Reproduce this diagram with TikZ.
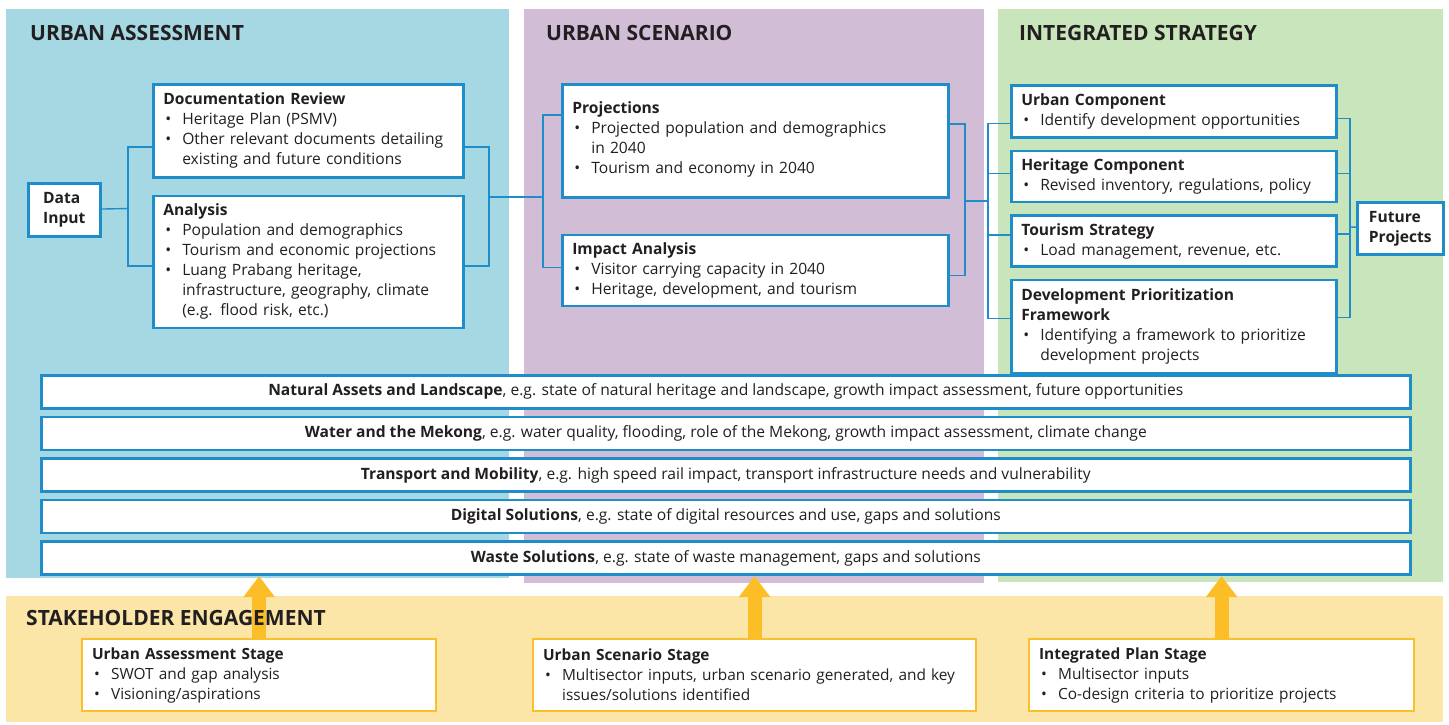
\documentclass[tikz,border=0pt]{standalone}
\usepackage{fontspec}
\setmainfont{Open Sans}
\usetikzlibrary{arrows.meta,positioning}

\definecolor{assessbg}{RGB}{166,216,227}
\definecolor{scenariobg}{RGB}{210,189,215}
\definecolor{strategybg}{RGB}{201,229,187}
\definecolor{stakebg}{RGB}{251,229,167}
\definecolor{boxline}{RGB}{31,141,201}
\definecolor{stageline}{RGB}{249,191,44}
\definecolor{liftcol}{RGB}{251,190,39}
\definecolor{inkdark}{RGB}{35,31,32}

% bullet line and its continuation line
\newcommand{\bul}[1]{\par\noindent\makebox[19pt][l]{\hspace{2pt}\textbullet}#1}
\newcommand{\more}[1]{\par\noindent\hspace*{19pt}#1}

\tikzstyle{block} = [rectangle, draw=boxline, line width=2.6pt, fill=white,
    anchor=north west, align=left, inner xsep=10pt, inner ysep=3pt,
    text=inkdark, font=\fontsize{15.6}{20}\selectfont]
\tikzstyle{sector} = [block, align=center, minimum width=1369pt, minimum height=33pt]
\tikzstyle{stage} = [block, draw=stageline, line width=2.2pt, font=\fontsize{15.4}{20}\selectfont]
\tikzstyle{link} = [draw=boxline, line width=1.4pt]
\tikzstyle{lift} = [draw=liftcol, line width=14pt, -{Triangle[width=30pt,length=21pt]}]
\tikzstyle{phase} = [anchor=west, inner sep=0pt, text=inkdark,
    font=\bfseries\fontsize{21}{24}\selectfont]

\begin{document}
\begin{tikzpicture}[x=1pt,y=-1pt]
  \useasboundingbox (0,0) rectangle (1449,724);

  % stage panels
  \fill[assessbg]   (6,9)    rectangle (509,578);
  \fill[scenariobg] (524,9)  rectangle (984,583);
  \fill[strategybg] (998,9)  rectangle (1443,582);
  \fill[stakebg]    (6,596)  rectangle (1443,722);

  \node[phase] (tUA) at (30,33)   {URBAN ASSESSMENT};
  \node[phase] (tUS) at (546,33)  {URBAN SCENARIO};
  \node[phase] (tIS) at (1019,33) {INTEGRATED STRATEGY};

  % urban assessment
  \node[block, minimum width=72pt, minimum height=53pt, font=\bfseries\fontsize{15.6}{20}\selectfont]
        (datain) at (27,182) {Data\\Input};
  \node[block, text width=290pt, minimum height=93pt] (docrev) at (152,83)
        {\textbf{Documentation Review}
         \bul{Heritage Plan (PSMV)}
         \bul{Other relevant documents detailing}
         \more{existing and future conditions}};
  \node[block, text width=290pt, minimum height=132pt, below=16pt of docrev] (analysis)
        {\textbf{Analysis}
         \bul{Population and demographics}
         \bul{Tourism and economic projections}
         \bul{Luang Prabang heritage,}
         \more{infrastructure, geography, climate}
         \more{(e.g. flood risk, etc.)}};

  % urban scenario
  \node[block, text width=366pt, minimum height=113pt] (proj) at (561,83)
        {\textbf{Projections}
         \bul{Projected population and demographics}
         \more{in 2040}
         \bul{Tourism and economy in 2040}\par\vspace{3pt}};
  \node[block, text width=366pt, minimum height=71pt, below=35pt of proj] (impact)
        {\textbf{Impact Analysis}
         \bul{Visitor carrying capacity in 2040}
         \bul{Heritage, development, and tourism}};

  % integrated strategy
  \node[block, text width=305pt, minimum height=52pt] (urbcomp) at (1010,84)
        {\textbf{Urban Component}
         \bul{Identify development opportunities}};
  \node[block, text width=305pt, minimum height=51pt, below=11pt of urbcomp] (hercomp)
        {\textbf{Heritage Component}
         \bul{Revised inventory, regulations, policy}};
  \node[block, text width=305pt, minimum height=51pt, below=11pt of hercomp] (tourism)
        {\textbf{Tourism Strategy}
         \bul{Load management, revenue, etc.}};
  \node[block, text width=305pt, minimum height=93pt, below=11pt of tourism] (devprior)
        {\textbf{Development Prioritization}\\\textbf{Framework}
         \bul{Identifying a framework to prioritize}
         \more{development projects}};
  \node[block, minimum width=86pt, minimum height=52pt, font=\bfseries\fontsize{15.6}{20}\selectfont]
        (future) at (1356,201) {Future\\Projects};

  % sectors
  \node[sector] (natural) at (40,374)
        {\textbf{Natural Assets and Landscape}, e.g. state of natural heritage and landscape, growth impact assessment, future opportunities};
  \node[sector, below=6pt of natural] (water)
        {\textbf{Water and the Mekong}, e.g. water quality, flooding, role of the Mekong, growth impact assessment, climate change};
  \node[sector, below=6pt of water] (transport)
        {\textbf{Transport and Mobility}, e.g. high speed rail impact, transport infrastructure needs and vulnerability};
  \node[sector, below=6pt of transport] (digital)
        {\textbf{Digital Solutions}, e.g. state of digital resources and use, gaps and solutions};
  \node[sector, below=6pt of digital] (waste)
        {\textbf{Waste Solutions}, e.g. state of waste management, gaps and solutions};

  % stakeholder engagement
  \node[stage, text width=334pt, minimum height=72pt] (stageA) at (81,638)
        {\textbf{Urban Assessment Stage}
         \bul{SWOT and gap analysis}
         \bul{Visioning/aspirations}};
  \node[stage, text width=423pt, minimum height=72pt] (stageB) at (532,638)
        {\textbf{Urban Scenario Stage}
         \bul{Multisector inputs, urban scenario generated, and key}
         \more{issues/solutions identified}};
  \node[stage, text width=365pt, minimum height=72pt] (stageC) at (1028,638)
        {\textbf{Integrated Plan Stage}
         \bul{Multisector inputs}
         \bul{Co-design criteria to prioritize projects}};

  % brackets
  \coordinate (jDI) at (128,208.5);
  \coordinate (jDA) at (489,197);
  \coordinate (jPI) at (543,197);
  \coordinate (jPS) at (965,201);
  \coordinate (jST) at (988,201);
  \coordinate (jFP) at (1350,227);

  \draw[link] (datain) -- (jDI);
  \draw[link] ([yshift=-16pt]docrev.west) -| (jDI) |- ([yshift=-4pt]analysis.west);
  \draw[link] ([yshift=-16pt]docrev.east) -| (jDA) |- ([yshift=-4pt]analysis.east);
  \draw[link] (jDA) -- (jPI);
  \draw[link] ([yshift=26pt]proj.west) -| (jPI) |- ([yshift=3pt]impact.west);
  \draw[link] ([yshift=17pt]proj.east) -| (jPS) |- ([yshift=-5pt]impact.east);
  \draw[link] (jPS) -- (jST);
  \draw[link] ([yshift=-12pt]urbcomp.west) -| (jST) |- ([yshift=8pt]devprior.west);
  \draw[link] ([yshift=3pt]hercomp.west) -- ([yshift=3pt]hercomp.west -| jST);
  \draw[link] ([yshift=6pt]tourism.west) -- ([yshift=6pt]tourism.west -| jST);
  \draw[link] ([yshift=-7pt]urbcomp.east) -| (jFP) |- ([yshift=9pt]devprior.east);
  \draw[link] ([yshift=3pt]hercomp.east) -- ([yshift=3pt]hercomp.east -| jFP);
  \draw[link] ([yshift=7pt]tourism.east) -- ([yshift=7pt]tourism.east -| jFP);
  \draw[link] (jFP) -- (future);

  % inputs
  \draw[lift] (stageA.north) -- (stageA.north |- waste.south);
  \draw[lift] (stageB.north) -- (stageB.north |- waste.south);
  \draw[lift] (stageC.north) -- (stageC.north |- waste.south);

  \node[phase] (tSE) at (26,618)  {STAKEHOLDER ENGAGEMENT};
\end{tikzpicture}
\end{document}
